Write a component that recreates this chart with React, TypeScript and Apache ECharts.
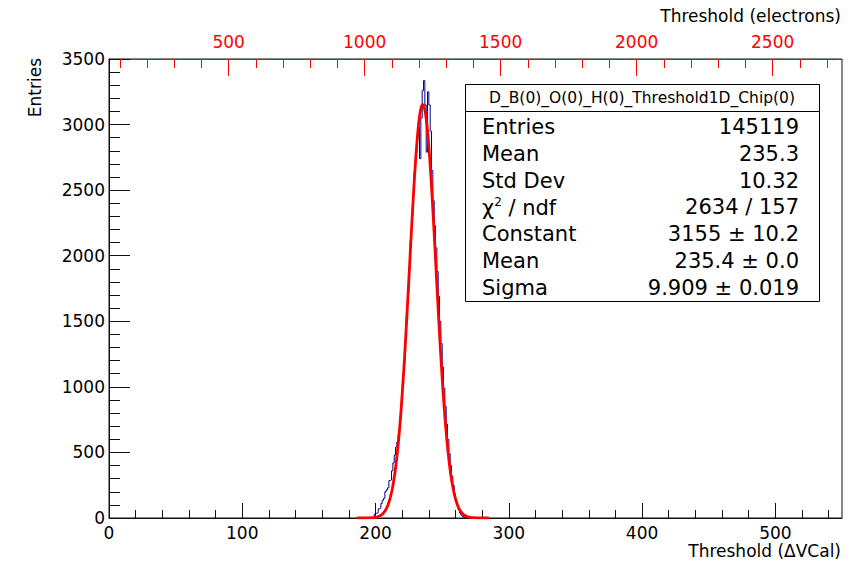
import React, { useEffect, useRef } from "react";
import * as echarts from "echarts";

// ---- data ----
const histStart = 196; // low edge of first bin (ΔVCal), bin width 1
const histCounts = [
  3, 5, 8, 30, 36, 40, 70, 75, 110, 135, 150, 200, 215, 230, 285, 290, 360, 420, 480, 540,
  580, 640, 740, 870, 1020, 1180, 1350, 1530, 1720, 1910, 2110, 2300, 2470, 2640, 2790, 2900,
  2980, 2740, 3050, 3260, 3335, 3150, 2790, 3250, 3150, 2950, 2650, 2420, 2230, 2060, 1880,
  1690, 1500, 1330, 1150, 990, 850, 715, 600, 490, 400, 320, 250, 185, 135, 95, 62, 38, 22, 12, 5, 2,
];

const fitX = [
  186, 195.4, 199.4, 201.4, 203.4, 205.4, 206.4, 207.4, 208.4, 209.4, 210.4, 211.4, 212.4, 213.4,
  214.4, 215.4, 216.4, 217.4, 218.4, 219.4, 220.4, 221.4, 222.4, 223.4, 224.4, 225.4, 226.4, 227.4,
  228.4, 229.4, 230.4, 231.4, 232.4, 233.4, 234.4, 235.4, 236.4, 237.4, 238.4, 239.4, 240.4, 241.4,
  242.4, 243.4, 244.4, 245.4, 246.4, 247.4, 248.4, 249.4, 250.4, 251.4, 252.4, 253.4, 254.4, 255.4,
  256.4, 257.4, 258.4, 259.4, 260.4, 261.4, 262.4, 263.4, 264.4, 265.4, 267.4, 269.4, 271.4, 275.4, 285,
];
const fitY = [
  0, 1, 4, 9, 17, 32, 44, 58, 77, 101, 131, 168, 213, 268, 334, 412, 502, 606, 724, 857, 1003, 1163,
  1335, 1516, 1704, 1896, 2089, 2278, 2458, 2627, 2778, 2908, 3014, 3091, 3139, 3155, 3139, 3091,
  3014, 2908, 2778, 2627, 2458, 2278, 2089, 1896, 1704, 1516, 1335, 1163, 1003, 857, 724, 606, 502,
  412, 334, 268, 213, 168, 131, 101, 77, 58, 44, 32, 17, 9, 4, 1, 0,
];

const vcalMajor = [0, 100, 200, 300, 400, 500];
const vcalMinor = [20, 40, 60, 80, 120, 140, 160, 180, 220, 240, 260, 280, 320, 340, 360, 380, 420, 440, 460, 480, 520, 540];
const elecMajor = [500, 1000, 1500, 2000, 2500];
const elecMinor = [100, 200, 300, 400, 600, 700, 800, 900, 1100, 1200, 1300, 1400, 1600, 1700, 1800, 1900, 2100, 2200, 2300, 2400, 2600, 2700];
const entriesMajor = [0, 500, 1000, 1500, 2000, 2500, 3000, 3500];
const entriesMinor = [100, 200, 300, 400, 600, 700, 800, 900, 1100, 1200, 1300, 1400, 1600, 1700, 1800, 1900, 2100, 2200, 2300, 2400, 2600, 2700, 2800, 2900, 3100, 3200, 3300, 3400];

const statsTitle = "D_B(0)_O(0)_H(0)_Threshold1D_Chip(0)";
const statsLabels = ["Entries", "Mean", "Std Dev", "CHI", "Constant", "Mean", "Sigma"];
const statsValues = ["145119", "235.3", "10.32", "2634 / 157", "3155 ± 10.2", "235.4 ± 0.0", "9.909 ± 0.019"];

const FONT = "DejaVu Sans";

export default function App() {
  const ref = useRef<HTMLDivElement>(null);
  useEffect(() => {
    if (!ref.current) return;
    const chart = echarts.init(ref.current, undefined, { renderer: "svg" });

    const histData: number[][] = [];
    histCounts.forEach((c, i) => histData.push([histStart + i, c]));
    histData.push([histStart + histCounts.length, 0]);
    const fitData = fitX.map((x, i) => [x, fitY[i]]);

    const black = "#111";
    const red = "#ff0000";
    const plain = (v: number) => String(v);
    const lbl = { fontFamily: FONT, fontSize: 17, color: "#000", formatter: plain };

    const statTexts: any[] = [];
    statsLabels.forEach((l, i) => {
      const y = 127 + i * 26.8;
      if (l === "CHI") {
        statTexts.push({
          type: "text",
          x: 482,
          y,
          style: {
            text: "{a|χ}{s|2}{a| / ndf}",
            rich: {
              a: { fontFamily: FONT, fontSize: 21, fill: "#000", verticalAlign: "bottom" },
              s: { fontFamily: FONT, fontSize: 12, fill: "#000", verticalAlign: "top", padding: [0, 0, 10, 0] },
            },
            textAlign: "left",
            textVerticalAlign: "middle",
            align: "left",
            verticalAlign: "middle",
          },
        });
      } else {
        statTexts.push({
          type: "text",
          x: 482,
          y,
          style: {
            text: l,
            font: `21px ${FONT}`,
            fill: "#000",
            textAlign: "left",
            textVerticalAlign: "middle",
            align: "left",
            verticalAlign: "middle",
          },
        });
      }
      statTexts.push({
        type: "text",
        x: 799,
        y,
        style: {
          text: statsValues[i],
          font: `21px ${FONT}`,
          fill: "#000",
          textAlign: "right",
          textVerticalAlign: "middle",
          align: "right",
          verticalAlign: "middle",
        },
      });
    });

    chart.setOption({
      animation: false,
      backgroundColor: "#fff",
      grid: {
        left: 109,
        right: 24,
        top: 59,
        bottom: 46,
        show: true,
        borderColor: black,
        borderWidth: 1,
        backgroundColor: "transparent",
      },
      xAxis: [
        {
          type: "value",
          position: "bottom",
          min: 0,
          max: 550,
          axisLine: { show: true, lineStyle: { color: black, width: 1 } },
          axisTick: { show: true, inside: true, length: 15, customValues: vcalMajor, lineStyle: { color: black } },
          axisLabel: { ...lbl, margin: 6, customValues: vcalMajor },
          splitLine: { show: false },
        },
        {
          type: "value",
          position: "bottom",
          min: 0,
          max: 550,
          axisLine: { show: false },
          axisTick: { show: true, inside: true, length: 8, customValues: vcalMinor, lineStyle: { color: black } },
          axisLabel: { show: false },
          splitLine: { show: false },
        },
        {
          type: "value",
          position: "top",
          min: 60,
          max: 2755,
          axisLine: { show: true, lineStyle: { color: red, width: 1 } },
          axisTick: { show: true, inside: true, length: 17, customValues: elecMajor, lineStyle: { color: red } },
          axisLabel: { fontFamily: FONT, fontSize: 17, color: red, margin: 9, customValues: elecMajor, formatter: plain },
          splitLine: { show: false },
        },
        {
          type: "value",
          position: "top",
          min: 60,
          max: 2755,
          axisLine: { show: false },
          axisTick: { show: true, inside: true, length: 9, customValues: elecMinor, lineStyle: { color: red } },
          axisLabel: { show: false },
          splitLine: { show: false },
        },
      ],
      yAxis: [
        {
          type: "value",
          position: "left",
          min: 0,
          max: 3500,
          axisLine: { show: true, lineStyle: { color: black, width: 1 } },
          axisTick: { show: true, inside: true, length: 21, customValues: entriesMajor, lineStyle: { color: black } },
          axisLabel: { ...lbl, margin: 4, customValues: entriesMajor },
          splitLine: { show: false },
        },
        {
          type: "value",
          position: "left",
          min: 0,
          max: 3500,
          axisLine: { show: false },
          axisTick: { show: true, inside: true, length: 11, customValues: entriesMinor, lineStyle: { color: black } },
          axisLabel: { show: false },
          splitLine: { show: false },
        },
      ],
      series: [
        {
          type: "line",
          xAxisIndex: 0,
          yAxisIndex: 0,
          data: histData,
          step: "end",
          symbol: "none",
          lineStyle: { color: "#000099", width: 1 },
          z: 3,
        },
        {
          type: "line",
          xAxisIndex: 0,
          yAxisIndex: 0,
          data: fitData,
          symbol: "none",
          smooth: false,
          lineStyle: { color: red, width: 2.8 },
          z: 4,
        },
      ],
      graphic: [
        {
          type: "text",
          x: 841,
          y: 16,
          style: {
            text: "Threshold (electrons)",
            font: `17px ${FONT}`,
            fill: "#000",
            textAlign: "right",
            textVerticalAlign: "middle",
            align: "right",
            verticalAlign: "middle",
          },
        },
        {
          type: "text",
          x: 841,
          y: 551,
          style: {
            text: "Threshold (ΔVCal)",
            font: `17px ${FONT}`,
            fill: "#000",
            textAlign: "right",
            textVerticalAlign: "middle",
            align: "right",
            verticalAlign: "middle",
          },
        },
        {
          type: "text",
          x: 35,
          y: 58,
          rotation: Math.PI / 2,
          style: {
            text: "Entries",
            font: `17px ${FONT}`,
            fill: "#000",
            textAlign: "right",
            textVerticalAlign: "middle",
            align: "right",
            verticalAlign: "middle",
          },
        },
        {
          type: "rect",
          shape: { x: 465.5, y: 84.5, width: 354, height: 217 },
          style: { fill: "#fff", stroke: "#000", lineWidth: 1 },
          z: 10,
        },
        {
          type: "line",
          shape: { x1: 465.5, y1: 111.5, x2: 819.5, y2: 111.5 },
          style: { stroke: "#000", lineWidth: 1 },
          z: 10,
        },
        {
          type: "text",
          x: 642,
          y: 98,
          z: 11,
          style: {
            text: statsTitle,
            font: `15.5px ${FONT}`,
            fill: "#000",
            textAlign: "center",
            textVerticalAlign: "middle",
            align: "center",
            verticalAlign: "middle",
          },
        },
        ...statTexts.map((t) => ({ ...t, z: 11 })),
      ],
    });

    return () => chart.dispose();
  }, []);

  return <div ref={ref} style={{ width: 866, height: 564, position: "absolute", left: 0, top: 0 }} />;
}
